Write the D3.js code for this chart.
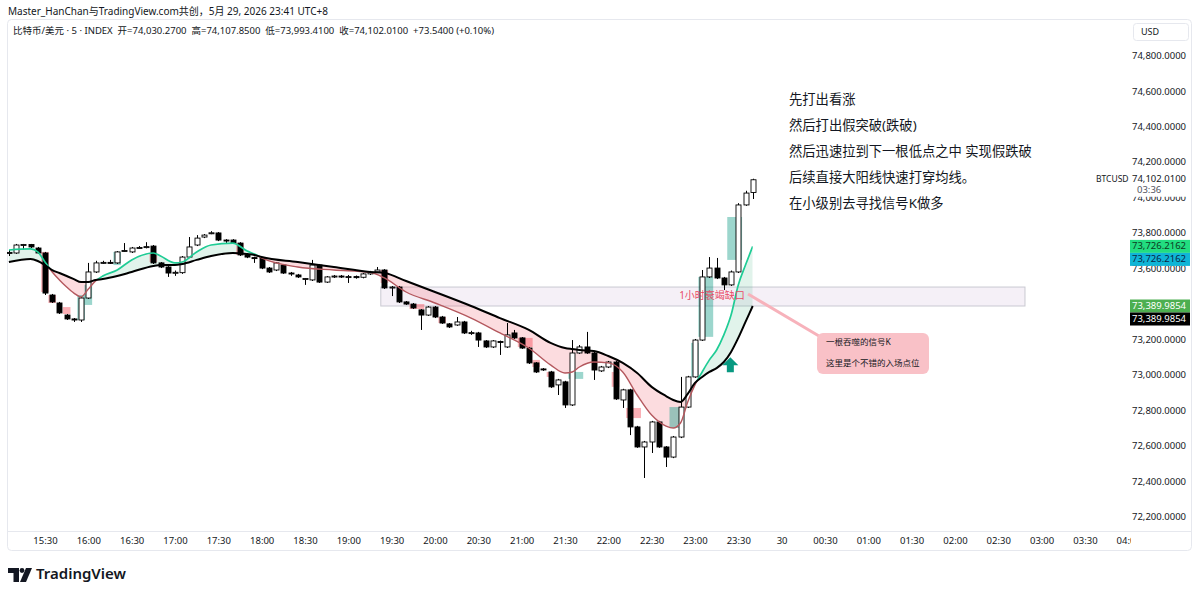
<!DOCTYPE html>
<html>
<head>
<meta charset="utf-8">
<script src="https://cdn.jsdelivr.net/npm/d3@7"></script>
<style>
  body { margin: 0; background: #fff; }
  svg { display: block; }
  text { font-family: "Noto Sans", "Noto Sans CJK SC", sans-serif; fill: #131722; }
</style>
</head>
<body>
<svg id="chart" width="1200" height="596"></svg>
<script>
// 5-minute bars, index 0 = 15:05, index 103 = 23:40
const opens  = [73689,73689,73734,73737,73717,73689,73452,73407,73339,73317,73311,73435,73582,73633,73636,73633,73700,73695,73717,73720,
                73728,73633,73610,73576,73578,73666,73734,73779,73800,73802,73762,73762,73745,73678,73663,73661,73604,73593,73621,73576,
                73565,73542,73537,73621,73525,73554,73559,73554,73556,73552,73571,73582,73593,73492,73497,73413,73401,73368,73339,73384,
                73328,73289,73283,73300,73238,73238,73193,73159,73190,73159,73238,73210,73153,73069,73035,73018,72945,72962,72832,73125,
                73159,73125,73024,73046,73074,72860,72917,72708,72595,72623,72736,72595,72538,72651,72820,72990,73198,73554,73604,73548,
                73509,73582,73960,74030.27];
const highs  = [73706,73740,73740,73740,73723,73695,73458,73413,73345,73322,73441,73633,73645,73645,73650,73700,73745,73723,73728,73750,
                73734,73638,73615,73590,73672,73779,73790,73796,73812,73807,73767,73767,73750,73682,73668,73666,73610,73638,73627,73582,
                73571,73548,73650,73627,73559,73565,73565,73565,73562,73576,73588,73610,73598,73503,73503,73418,73407,73373,73390,73390,
                73334,73294,73328,73306,73250,73244,73198,73198,73195,73294,73255,73215,73159,73074,73040,73024,72979,72968,73198,73170,
                73244,73131,73052,73080,73080,72923,72923,72714,72629,72742,72742,72600,72657,72990,72996,73204,73593,73666,73661,73554,
                73590,73970,74040,74107.85];
const lows   = [73672,73684,73706,73717,73684,73452,73407,73345,73311,73300,73300,73430,73576,73627,73627,73627,73695,73689,73712,73715,
                73627,73604,73554,73560,73571,73660,73728,73773,73795,73756,73745,73740,73672,73660,73633,73598,73576,73587,73571,73560,
                73548,73509,73531,73520,73520,73548,73548,73520,73544,73546,73565,73576,73486,73446,73407,73396,73373,73255,73334,73322,
                73289,73266,73278,73232,73227,73159,73153,73153,73114,73153,73204,73148,73063,73012,73024,72928,72888,72815,72826,73120,
                73120,72973,73018,73040,72860,72815,72662,72590,72420,72561,72590,72482,72532,72645,72815,72985,73193,73548,73542,73480,
                73503,73576,73955,73993.41];
const closes = [73692,73734,73737,73723,73689,73463,73413,73351,73317,73311,73435,73582,73633,73636,73633,73695,73703,73717,73720,73725,
                73633,73610,73576,73580,73666,73723,73773,73790,73803,73762,73760,73745,73678,73666,73661,73604,73582,73633,73576,73574,
                73554,73545,73621,73525,73554,73559,73554,73556,73550,73571,73582,73593,73492,73497,73413,73401,73379,73339,73384,73328,
                73294,73272,73300,73238,73240,73198,73159,73193,73187,73227,73210,73153,73069,73018,73033,72934,72973,72832,73125,73159,
                73125,73029,73046,73074,72866,72917,72708,72595,72623,72736,72595,72538,72651,72820,72990,73198,73554,73604,73548,73509,
                73582,73960,74027,74102.01];

// moving averages read at these bar indices
const maIdx  = [0,3,4,5,6,7,8,9,10,11,12,13,15,17,20,21,23,24,26,28,31,33,34,35,40,45,50,52,55,59,64,68,72,75,77,78,79,81,83,85,
                87,89,91,92,93,94,95,96,97,98,99,100,101,102,103];
const maSlow = [73638,73655,73644,73621,73593,73576,73559,73542,73525,73525,73537,73542,73559,73582,73616,73621,73621,73627,73650,73672,
                73689,73683,73678,73666,73638,73610,73582,73576,73531,73469,73390,73322,73255,73182,73153,73147,73142,73136,73108,73069,
                73012,72934,72882,72860,72849,72894,72956,72990,73018,73040,73074,73131,73210,73300,73389.9854];
const maFast = [73706,73712,73695,73638,73582,73537,73497,73463,73441,73486,73531,73559,73593,73650,73689,73672,73633,73638,73695,73734,
                73745,73700,73683,73661,73610,73593,73580,73548,73469,73407,73322,73238,73153,73058,73012,73018,73046,73074,73069,73018,
                72888,72775,72713,72702,72730,72849,72945,73018,73086,73142,73227,73339,73509,73621,73726.2162];

// shaded bars behind candles: [first bar, last bar, high, low, up?]
const shades = [[5,5,73695,73469,0],[6,6,73452,73407,0],[8,8,73384,73345,0],[10,10,73452,73311,1],[11,11,73509,73396,1],
                [15,15,73695,73621,1],[20,20,73689,73638,0],[32,32,73745,73678,0],[52,52,73593,73520,0],[56,57,73401,73373,0],
                [60,60,73328,73294,0],[71,72,73210,73159,0],[73,73,73086,73046,0],[75,75,73018,72990,0],[78,79,73018,72979,1],
                [84,84,73018,72934,0],[86,87,72815,72758,0],[92,93,72820,72702,1],[95,95,73182,72990,1],[96,97,73554,73216,1],
                [100,101,73892,73650,1]];

const timeLabels = ["15:30","16:00","16:30","17:00","17:30","18:00","18:30","19:00","19:30","20:00","20:30","21:00","21:30",
                    "22:00","22:30","23:00","23:30","30","00:30","01:00","01:30","02:00","02:30","03:00","03:30","04:00"];
const priceTicks = [74800,74600,74400,74200,74000,73800,73600,73400,73200,73000,72800,72600,72400,72200];

const notes = ["先打出看涨","然后打出假突破(跌破)","然后迅速拉到下一根低点之中 实现假跌破","后续直接大阳线快速打穿均线。","在小级别去寻找信号K做多"];
const calloutLines = ["一根吞噬的信号K","这里是个不错的入场点位"];
const zone = { from: 51.5, to: 140.7, top: 73497, bottom: 73390, label: "1小时衰竭缺口" };
const legend = "比特币/美元 · 5 · INDEX  开=74,030.2700  高=74,107.8500  低=73,993.4100  收=74,102.0100  +73.5400 (+0.10%)";

const svg = d3.select("#chart");
const plot = { left: 7, right: 1127, top: 20, bottom: 531 };

const x = d3.scaleLinear().domain([5, 11]).range([45, 88.33]);
const y = d3.scaleLinear().domain([72200, 74800]).range([517, 56]);
const fmt = d3.format(",.4f");

// frame
svg.append("rect").attr("x", 7.5).attr("y", 19.5).attr("width", 1184).attr("height", 531)
  .attr("rx", 4).attr("fill", "#fff").attr("stroke", "#e6e8ee");
svg.append("line").attr("x1", 7).attr("x2", 1192).attr("y1", 531.5).attr("y2", 531.5).attr("stroke", "#e6e8ee");

svg.append("text").attr("x", 8).attr("y", 12).attr("dominant-baseline", "middle")
  .attr("font-size", "10px").text("Master_HanChan与TradingView.com共创，5月 29, 2026 23:41 UTC+8");
svg.append("text").attr("x", 13).attr("y", 31).attr("dominant-baseline", "middle")
  .attr("font-size", "9.5px").attr("xml:space", "preserve").style("white-space", "pre").text(legend);

const defs = svg.append("defs");
defs.append("clipPath").attr("id", "plotClip").append("rect")
  .attr("x", plot.left).attr("y", plot.top).attr("width", plot.right - plot.left).attr("height", plot.bottom - plot.top);

const ma = maIdx.map((k, i) => ({ k, s: maSlow[i], f: maFast[i] }));
const curve = d3.curveMonotoneX;
defs.append("clipPath").attr("id", "above").append("path")
  .attr("d", d3.area().x(d => x(d.k)).y0(0).y1(d => y(d.s)).curve(curve)(ma));
defs.append("clipPath").attr("id", "below").append("path")
  .attr("d", d3.area().x(d => x(d.k)).y0(d => y(d.s)).y1(600).curve(curve)(ma));

const g = svg.append("g").attr("clip-path", "url(#plotClip)");

// gap zone
g.append("rect")
  .attr("x", x(zone.from)).attr("y", y(zone.top))
  .attr("width", x(zone.to) - x(zone.from)).attr("height", y(zone.bottom) - y(zone.top))
  .attr("fill", "#f5f0f7").attr("stroke", "#c9c9d2");

// ribbon fill between the averages
const band = d3.area().x(d => x(d.k)).y0(d => y(d.f)).y1(d => y(d.s)).curve(curve);
g.append("path").attr("d", band(ma)).attr("fill", "rgba(40,170,110,0.14)").attr("clip-path", "url(#above)");
g.append("path").attr("d", band(ma)).attr("fill", "rgba(242,80,95,0.2)").attr("clip-path", "url(#below)");

// shaded bars
g.selectAll("rect.shade").data(shades).enter().append("rect")
  .attr("class", "shade")
  .attr("x", d => x(d[0]) - 3.8)
  .attr("y", d => y(d[2]))
  .attr("width", d => x(d[1]) - x(d[0]) + 7.6)
  .attr("height", d => y(d[3]) - y(d[2]))
  .attr("fill", d => d[4] ? "rgba(8,153,129,0.4)" : "rgba(242,54,69,0.4)");

// candles
const bars = opens.map((o, i) => ({ i, o, h: highs[i], l: lows[i], c: closes[i] }));
g.selectAll("line.wick").data(bars).enter().append("line")
  .attr("class", "wick")
  .attr("x1", d => Math.round(x(d.i)) + 0.5).attr("x2", d => Math.round(x(d.i)) + 0.5)
  .attr("y1", d => y(d.h)).attr("y2", d => y(d.l))
  .attr("stroke", "#000").attr("stroke-width", 1);
g.selectAll("rect.body").data(bars).enter().append("rect")
  .attr("class", "body")
  .attr("x", d => Math.round(x(d.i)) - 2)
  .attr("y", d => y(Math.max(d.o, d.c)))
  .attr("width", 5)
  .attr("height", d => Math.max(1, Math.abs(y(d.o) - y(d.c))))
  .attr("fill", d => d.c >= d.o ? "#fff" : "#000")
  .attr("stroke", "#000").attr("stroke-width", 0.9);

// averages
const slowPath = d3.line().x(d => x(d.k)).y(d => y(d.s)).curve(curve);
const fastPath = d3.line().x(d => x(d.k)).y(d => y(d.f)).curve(curve);
g.append("path").attr("d", fastPath(ma)).attr("fill", "none").attr("stroke", "#1fcc95")
  .attr("stroke-width", 1.7).attr("clip-path", "url(#above)");
g.append("path").attr("d", fastPath(ma)).attr("fill", "none").attr("stroke", "#b4585e")
  .attr("stroke-width", 1.4).attr("clip-path", "url(#below)");
g.append("path").attr("d", slowPath(ma)).attr("fill", "none").attr("stroke", "#000").attr("stroke-width", 2);

// zone label
g.append("text").attr("x", 712).attr("y", y((zone.top + zone.bottom) / 2)).attr("text-anchor", "middle")
  .attr("dominant-baseline", "middle").attr("font-size", "10px").style("fill", "#e84a64").text(zone.label);

// callout
svg.append("line").attr("x1", 748).attr("y1", 294).attr("x2", 824).attr("y2", 339)
  .attr("stroke", "#f7b2bb").attr("stroke-width", 3);
svg.append("rect").attr("x", 817).attr("y", 333).attr("width", 112).attr("height", 41).attr("rx", 6)
  .attr("fill", "#f9c1c7");
calloutLines.forEach((t, i) => {
  svg.append("text").attr("x", 826).attr("y", 343 + i * 21).attr("dominant-baseline", "middle")
    .attr("font-size", "8.5px").text(t);
});

// up arrow
const ax = x(99.9), ay = y(73101);
svg.append("path")
  .attr("d", `M${ax},${ay} L${ax + 8},${ay + 8} L${ax + 3.5},${ay + 8} L${ax + 3.5},${ay + 15} L${ax - 3.5},${ay + 15} L${ax - 3.5},${ay + 8} L${ax - 8},${ay + 8} Z`)
  .attr("fill", "#089981");

// notes
notes.forEach((t, i) => {
  svg.append("text").attr("x", 789).attr("y", 100 + i * 26).attr("dominant-baseline", "middle")
    .attr("font-size", "13.3px").text(t);
});

// x axis
defs.append("clipPath").attr("id", "axisClip").append("rect").attr("x", -10).attr("y", -20).attr("width", 1141).attr("height", 40);
const xAxis = svg.append("g").attr("transform", "translate(0,541)").attr("clip-path", "url(#axisClip)");
xAxis.call(d3.axisBottom(x).tickValues(timeLabels.map((d, i) => 5 + i * 6)).tickFormat((d, i) => timeLabels[i]).tickSize(0))
  .call(a => a.select(".domain").remove())
  .selectAll("text").attr("dy", 0).attr("y", 0).attr("dominant-baseline", "middle")
  .attr("font-size", "9.5px").attr("font-family", null).style("fill", "#131722");

// price axis
const yAxis = svg.append("g").attr("transform", "translate(1186,0)");
yAxis.call(d3.axisRight(y).tickValues(priceTicks).tickFormat(fmt).tickSize(0))
  .call(a => a.select(".domain").remove())
  .selectAll("text").attr("x", 0).attr("dy", 0).attr("text-anchor", "end").attr("dominant-baseline", "middle")
  .attr("font-size", "9.5px").attr("font-family", null).style("fill", "#131722");

svg.append("rect").attr("x", 1133.5).attr("y", 23.5).attr("width", 55).attr("height", 17).attr("rx", 3)
  .attr("fill", "#fff").attr("stroke", "#e6e8ee");
svg.append("text").attr("x", 1141).attr("y", 32.5).attr("dominant-baseline", "middle").attr("font-size", "9px").text("USD");

// last price
const last = closes[closes.length - 1];
svg.append("rect").attr("x", 1131).attr("y", y(last) - 8).attr("width", 59).attr("height", 25).attr("fill", "#fff");
svg.append("text").attr("x", 1186).attr("y", y(last)).attr("text-anchor", "end").attr("dominant-baseline", "middle")
  .attr("font-size", "9.5px").text(fmt(last));
svg.append("text").attr("x", 1137).attr("y", y(last) + 11).attr("dominant-baseline", "middle")
  .attr("font-size", "9.5px").style("fill", "#50535e").text("03:36");
svg.append("text").attr("x", 1096).attr("y", y(last)).attr("dominant-baseline", "middle")
  .attr("font-size", "8.5px").text("BTCUSD");

// value tags of the averages
const tags = [
  { v: maFast[maFast.length - 1], off: 0, bg: "#22dd80", fg: "#0d3b22" },
  { v: maFast[maFast.length - 1], off: 13, bg: "#0fb5d6", fg: "#0a2745" },
  { v: maSlow[maSlow.length - 1], off: 0, bg: "#4caf50", fg: "#fff" },
  { v: maSlow[maSlow.length - 1], off: 13, bg: "#000", fg: "#fff" }
];
tags.forEach(t => {
  const cy = y(t.v) + t.off;
  svg.append("rect").attr("x", 1130).attr("y", cy - 6.5).attr("width", 60).attr("height", 13).attr("fill", t.bg);
  svg.append("text").attr("x", 1186).attr("y", cy).attr("text-anchor", "end").attr("dominant-baseline", "middle")
    .attr("font-size", "9.5px").style("fill", t.fg).text(fmt(t.v));
});

// TradingView logo
svg.append("path").attr("d", "M8,568 H19 V582 H13.5 V573 H8 Z").attr("fill", "#131722");
svg.append("circle").attr("cx", 22).attr("cy", 570.5).attr("r", 2.4).attr("fill", "#131722");
svg.append("path").attr("d", "M26,568 H32 L26,582 H20 Z").attr("fill", "#131722");
svg.append("text").attr("x", 36).attr("y", 575).attr("dominant-baseline", "middle")
  .attr("font-family", "Inter").attr("font-weight", 600).attr("font-size", "15px").text("TradingView");
</script>
</body>
</html>
